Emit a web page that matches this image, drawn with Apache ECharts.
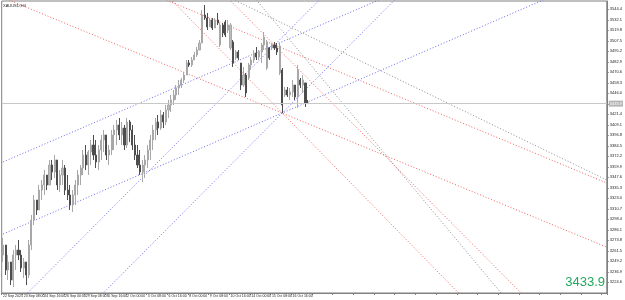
<!DOCTYPE html>
<html><head><meta charset="utf-8">
<script src="https://cdn.jsdelivr.net/npm/echarts@6/dist/echarts.min.js"></script>
<style>html,body{margin:0;padding:0;background:#fff}#c{width:625px;height:300px}</style>
</head><body><div id="c"></div>
<script>
// ---- data ----
const symbolTitle = 'XAUUSD,H4';
const currentPrice = 3433.9;
const priceTicks = [3544.4,3532.1,3519.8,3507.5,3495.2,3482.9,3470.6,3458.3,3446.0,3433.7,3421.4,3409.1,3396.8,3384.5,3372.2,3359.9,3347.6,3335.3,3323.0,3310.7,3298.4,3286.1,3273.8,3261.5,3249.2,3236.9,3224.6];
const timeLabels = ['22 Sep 2025','23 Sep 08:00','24 Sep 16:00','26 Sep 00:00','29 Sep 08:00','30 Sep 16:00','2 Oct 00:00','3 Oct 08:00','6 Oct 16:00','8 Oct 00:00','9 Oct 08:00','10 Oct 16:00','14 Oct 00:00','15 Oct 08:00','16 Oct 16:00'];
const opens = [3256.6,3268.3,3239.0,3248.4,3227.3,3256.6,3262.4,3256.6,3241.4,3248.4,3233.2,3268.3,3297.6,3321.0,3309.3,3332.7,3338.6,3350.3,3338.6,3362.0,3353.8,3367.9,3338.6,3350.3,3358.5,3332.7,3326.9,3315.2,3326.9,3338.6,3350.3,3358.5,3373.7,3362.0,3377.2,3385.4,3373.7,3365.5,3379.6,3391.3,3397.2,3373.7,3379.6,3397.2,3403.0,3408.9,3397.2,3405.3,3385.4,3412.4,3403.0,3385.4,3373.7,3362.0,3353.8,3362.0,3367.9,3379.6,3391.3,3403.0,3412.4,3405.3,3420.6,3412.4,3426.4,3432.3,3438.2,3444.0,3452.2,3455.7,3461.6,3467.4,3481.5,3479.2,3485.0,3490.9,3496.7,3504.9,3537.7,3534.2,3523.7,3531.9,3522.5,3531.9,3502.6,3526.0,3529.5,3520.1,3499.1,3506.1,3487.4,3494.4,3481.5,3455.7,3467.4,3463.9,3479.2,3485.0,3493.2,3488.5,3494.4,3502.6,3475.6,3499.1,3499.1,3502.6,3499.1,3469.8,3473.3,3444.0,3449.9,3444.0,3447.5,3455.7,3441.7,3461.6,3455.7,3458.1,3434.6];
const closes = [3268.3,3239.0,3248.4,3227.3,3256.6,3262.4,3256.6,3241.4,3248.4,3233.2,3268.3,3297.6,3321.0,3309.3,3332.7,3338.6,3350.3,3338.6,3362.0,3353.8,3367.9,3338.6,3350.3,3358.5,3332.7,3326.9,3315.2,3326.9,3338.6,3350.3,3358.5,3373.7,3362.0,3377.2,3385.4,3373.7,3365.5,3379.6,3391.3,3397.2,3373.7,3379.6,3397.2,3403.0,3408.9,3397.2,3405.3,3385.4,3412.4,3403.0,3385.4,3373.7,3362.0,3353.8,3362.0,3367.9,3379.6,3391.3,3403.0,3412.4,3405.3,3420.6,3412.4,3426.4,3432.3,3438.2,3444.0,3452.2,3455.7,3461.6,3467.4,3481.5,3479.2,3485.0,3490.9,3496.7,3504.9,3537.7,3534.2,3523.7,3531.9,3522.5,3531.9,3528.4,3526.0,3516.6,3514.3,3526.0,3526.0,3481.5,3494.4,3487.4,3455.7,3467.4,3446.4,3479.2,3485.0,3493.2,3488.5,3494.4,3502.6,3511.9,3506.1,3487.4,3502.6,3499.1,3494.4,3501.4,3432.3,3449.9,3444.0,3447.5,3455.7,3441.7,3473.3,3455.7,3461.6,3434.6,3433.9];
const lows = [3248.4,3233.2,3227.3,3221.4,3219.1,3239.0,3250.7,3236.7,3229.6,3221.4,3229.6,3262.4,3291.7,3303.5,3309.3,3321.0,3326.9,3332.7,3338.6,3344.4,3346.8,3332.7,3330.4,3338.6,3326.9,3321.0,3309.3,3307.0,3315.2,3326.9,3338.6,3350.3,3356.1,3350.3,3362.0,3367.9,3358.5,3356.1,3367.9,3377.2,3367.9,3362.0,3373.7,3379.6,3385.4,3391.3,3385.4,3379.6,3381.9,3389.0,3379.6,3367.9,3358.5,3350.3,3342.1,3346.8,3358.5,3367.9,3379.6,3391.3,3397.2,3403.0,3405.3,3408.9,3417.1,3424.1,3432.3,3438.2,3444.0,3452.2,3458.1,3467.4,3476.8,3476.8,3485.0,3488.5,3496.7,3504.9,3531.9,3520.1,3523.7,3520.1,3522.5,3526.0,3500.2,3511.9,3511.9,3516.6,3496.7,3476.8,3485.0,3485.0,3449.9,3453.4,3441.7,3461.6,3473.3,3481.5,3485.0,3485.0,3481.5,3496.7,3473.3,3485.0,3496.7,3496.7,3490.9,3467.4,3422.9,3441.7,3441.7,3438.2,3441.7,3438.2,3428.8,3452.2,3446.4,3430.0,3433.5];
const highs = [3276.5,3268.3,3256.6,3248.4,3262.4,3268.3,3274.2,3262.4,3253.1,3248.4,3274.2,3303.5,3326.9,3321.0,3338.6,3344.4,3356.1,3350.3,3367.9,3367.9,3373.7,3367.9,3356.1,3367.9,3362.0,3350.3,3338.6,3332.7,3344.4,3356.1,3362.0,3379.6,3385.4,3379.6,3391.3,3397.2,3391.3,3385.4,3397.2,3403.0,3397.2,3385.4,3403.0,3408.9,3414.7,3417.1,3412.4,3408.9,3417.1,3414.7,3408.9,3397.2,3385.4,3379.6,3367.9,3373.7,3385.4,3397.2,3408.9,3417.1,3420.6,3426.4,3424.1,3432.3,3438.2,3444.0,3449.9,3455.7,3461.6,3463.9,3471.0,3485.0,3485.0,3488.5,3494.4,3500.2,3508.4,3543.6,3549.4,3540.1,3534.2,3534.2,3534.2,3540.1,3528.4,3528.4,3531.9,3531.9,3528.4,3508.4,3496.7,3496.7,3481.5,3476.8,3469.8,3481.5,3488.5,3496.7,3500.2,3496.7,3504.9,3517.8,3508.4,3500.2,3504.9,3506.1,3504.9,3504.9,3475.6,3453.4,3453.4,3452.2,3461.6,3455.7,3479.2,3463.9,3467.4,3458.1,3438.2];
// trend lines: two anchor points each, [barIndex, price]
const redLines = [
  [[4.1,3553.0],[108.0,3422.9]],
  [[105.0,3502.6],[233.5,3340.9]],
  [[108.0,3422.9],[176.2,3212.1]],
  [[105.0,3502.6],[200.4,3212.1]]
];
const blueLines = [
  [[38.8,3212.1],[108.0,3422.9]],
  [[9.5,3212.1],[105.0,3502.6]],
  [[-0.9,3280.0],[108.0,3422.9]],
  [[-0.9,3364.4],[105.0,3502.6]]
];
const grayLines = [
  [[89.5,3555.3],[233.5,3344.4]],
  [[98.0,3555.3],[126.1,3453.4]]
];
const totalSlots = 234;
// ---- build ----
const cats = [];
for (let i = 0; i < totalSlots; i++) cats.push(String(i));
const candles = opens.map((o, i) => [o, closes[i], lows[i], highs[i]]);
function extend(seg) {
  const [[x1, y1], [x2, y2]] = seg;
  const k = (y2 - y1) / (x2 - x1);
  const xa = -1, xb = totalSlots;
  return [[xa, y1 + k * (xa - x1)], [xb, y1 + k * (xb - x1)]];
}
function lineSeries(list, color) {
  return list.map(seg => ({
    type: 'line', data: extend(seg), symbol: 'none', silent: true, clip: true, z: 3,
    lineStyle: { color: color, width: 1, type: [1, 2] }, animation: false
  }));
}
const FONT = 'Liberation Sans, Arial, sans-serif';
const chart = echarts.init(document.getElementById('c'), null, { renderer: 'canvas' });
chart.setOption({
  animation: false,
  backgroundColor: '#ffffff',
  grid: { left: 1, right: 16, top: 1, bottom: 7, show: true, borderColor: '#808080', borderWidth: 1 },
  xAxis: {
    type: 'category', data: cats, boundaryGap: true,
    axisLine: { lineStyle: { color: '#808080', width: 1 } },
    axisTick: { show: true, interval: 7, length: 2, lineStyle: { color: '#808080' } },
    axisLabel: {
      interval: 7, fontSize: 3.5, color: '#222', margin: 1, align: 'left', fontFamily: FONT,
      formatter: (v, idx) => { const k = idx / 8; return (idx % 8 === 0 && timeLabels[k]) ? timeLabels[k] : ''; }
    },
    splitLine: { show: false }
  },
  yAxis: {
    type: 'value', position: 'right', min: 3212.1, max: 3554.1, scale: true,
    axisLine: { show: true, lineStyle: { color: '#808080', width: 1 } },
    axisTick: { show: true, length: 2, customValues: priceTicks, lineStyle: { color: '#808080' } },
    axisLabel: { customValues: priceTicks, fontSize: 4, color: '#222', margin: 3, fontFamily: FONT, formatter: v => v.toFixed(1) },
    splitLine: { show: false }
  },
  series: [
    {
      type: 'candlestick', data: candles, barWidth: 1.6, z: 4,
      itemStyle: { color: '#bdbdbd', color0: '#4d4d4d', borderColor: '#a8a8a8', borderColor0: '#4d4d4d', borderWidth: 1 },
      markLine: {
        symbol: 'none', silent: true, animation: false,
        lineStyle: { color: '#c8c8c8', width: 1, type: 'solid' },
        label: { show: true, position: 'end', formatter: () => currentPrice.toFixed(1), fontSize: 4, color: '#ffffff', backgroundColor: '#b5b5b5', padding: [1, 1], distance: 2, fontFamily: FONT },
        data: [{ yAxis: currentPrice }]
      }
    },
    ...lineSeries(redLines, 'rgba(240,70,70,0.85)'),
    ...lineSeries(blueLines, 'rgba(80,80,240,0.85)'),
    ...lineSeries(grayLines, 'rgba(120,120,120,0.85)')
  ],
  graphic: [
    { type: 'text', left: 3, top: 4, style: { text: symbolTitle, fontSize: 4, fill: '#222', fontFamily: FONT } },
    { type: 'text', right: 20, bottom: 11, style: { text: currentPrice.toFixed(1), fontSize: 13, fill: '#22a85c', fontFamily: FONT } }
  ]
});
</script></body></html>
